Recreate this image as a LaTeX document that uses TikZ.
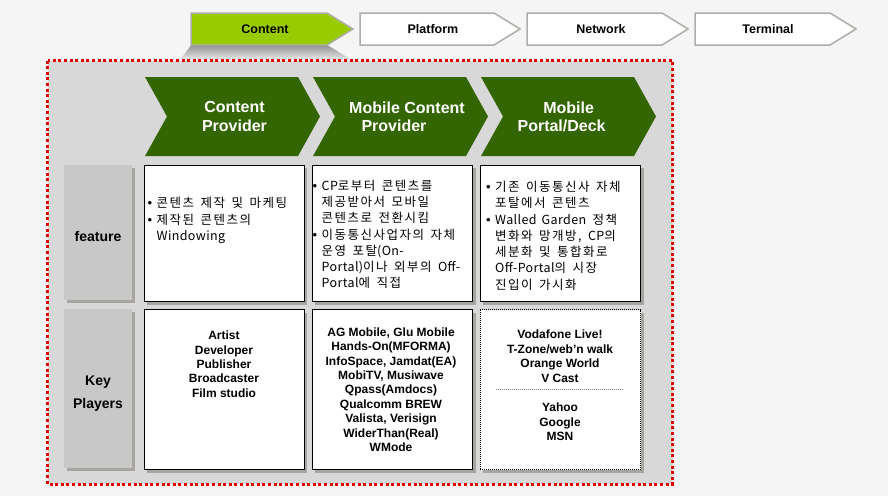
\documentclass[tikz,border=0pt]{standalone}
\usepackage{fontspec}
\setmainfont{Liberation Sans}
\newfontfamily\krfont{Noto Sans CJK KR}[LetterSpace=12,WordSpace=1.5]
\newfontfamily\krlat{Noto Sans CJK KR}[LetterSpace=3,WordSpace=1.6]
\newfontfamily\bulfont{Liberation Sans}
\definecolor{bgc}{HTML}{F5F5F5}
\definecolor{limec}{HTML}{99CC00}
\definecolor{tabline}{HTML}{B0ACA8}
\definecolor{chev}{HTML}{336600}
\definecolor{panel}{HTML}{D8D8D8}
\definecolor{dotred}{HTML}{E00000}
\definecolor{lblgray}{HTML}{C8C8C8}
\definecolor{shad}{HTML}{A8A4A0}
\definecolor{shtop}{HTML}{969696}
\definecolor{shbot}{HTML}{EBEBEB}
\newcommand{\kbul}{\makebox[9pt][l]{\bulfont\fontsize{13}{13}\selectfont •}}
\newcommand{\kind}{\hspace*{9pt}}
\newcommand{\lat}[1]{{\krlat #1}}
\begin{document}
\begin{tikzpicture}[x=1pt,y=-1pt,
  tabbox/.style={draw=tabline, line width=1.5pt, fill=white, line join=miter},
  tabtext/.style={font=\bfseries\fontsize{12.5}{14}\selectfont, inner sep=0},
  chevshape/.style={fill=chev},
  chevtext/.style={text=white, font=\bfseries\fontsize{16}{18.7}\selectfont, align=center, inner sep=0, anchor=north},
  lblbox/.style={fill=lblgray},
  shadowbox/.style={fill=shad},
  lbltext/.style={font=\bfseries\fontsize{14}{22.7}\selectfont, align=center, inner sep=0},
  cellbox/.style={draw=black, line width=1pt, fill=white},
  featt/.style={font=\krfont\fontsize{12.5}{16.25}\selectfont, align=left, inner sep=0, anchor=north west},
  kpt/.style={font=\bfseries\fontsize{12}{14.4}\selectfont, align=center, inner sep=0, anchor=north},
  sepline/.style={draw=gray, line width=0.8pt, dash pattern=on 1pt off 1pt}
]
\useasboundingbox (0,0) rectangle (888,496);
\fill[bgc] (0,0) rectangle (888,496);

% top tabs
\filldraw[tabbox, fill=limec] (191,13) -- (327,13) -- (353,29) -- (327,45) -- (191,45) -- cycle;
\filldraw[tabbox] (360,13) -- (494,13) -- (520,29) -- (494,45) -- (360,45) -- cycle;
\filldraw[tabbox] (527,13) -- (662,13) -- (688,29) -- (662,45) -- (527,45) -- cycle;
\filldraw[tabbox] (695,13) -- (830,13) -- (856,29) -- (830,45) -- (695,45) -- cycle;
\node[tabtext] (t1) at (265,29) {Content};
\node[tabtext] (t2) at (433,29) {Platform};
\node[tabtext] (t3) at (601,29) {Network};
\node[tabtext] (t4) at (768,29) {Terminal};

% shadow under active tab
\shade[top color=shtop, bottom color=shbot] (191,45.5) -- (328,45.5) -- (352,60) -- (180,60) -- cycle;

% outer panel
\fill[panel] (47.5,60.5) rectangle (672.5,484);
\draw[dotred, line width=3pt, dash pattern=on 3pt off 2.6pt] (47.5,60.5) rectangle (672.5,484);

% chevrons
\fill[chevshape] (145,77) -- (298,77) -- (320,116.5) -- (298,156) -- (145,156) -- (167,116.5) -- cycle;
\fill[chevshape] (313,77) -- (466,77) -- (488,116.5) -- (466,156) -- (313,156) -- (335,116.5) -- cycle;
\fill[chevshape] (481,77) -- (634,77) -- (656,116.5) -- (634,156) -- (481,156) -- (503,116.5) -- cycle;
\node[chevtext] (h1) at (234.5,101.5) {Content\\Provider};
\node[chevtext] (h2) at (407,101.5) {Mobile Content\\Provider\hspace*{26pt}};
\node[chevtext] (h3) at (568.6,101.5) {Mobile\\Portal/Deck\hspace*{14pt}};

% row labels
\fill[shadowbox] (67,168) rectangle (135,303);
\fill[lblbox] (64,165) rectangle (132,300);
\fill[shadowbox] (67,312) rectangle (135,471);
\fill[lblbox] (64,309) rectangle (132,468);
\node[lbltext] (l1) at (98,236) {feature};
\node[lbltext] (l2) at (98,393.5) {Key\\Players};

% cells: shadows
\fill[shadowbox] (147,168) rectangle (307,304.5);
\fill[shadowbox] (315,168) rectangle (475.5,304.5);
\fill[shadowbox] (483,168) rectangle (643.5,304.5);
\fill[shadowbox] (147,312.5) rectangle (307,472.5);
\fill[shadowbox] (315,312.5) rectangle (475.5,472.5);
\fill[shadowbox] (483,312.5) rectangle (643.5,472.5);
% cells
\filldraw[cellbox] (144,165) rectangle (304,301.5);
\filldraw[cellbox] (312,165) rectangle (472.5,301.5);
\filldraw[cellbox] (480,165) rectangle (640.5,301.5);
\filldraw[cellbox] (144,309.5) rectangle (304,469.5);
\filldraw[cellbox] (312,309.5) rectangle (472.5,469.5);
\filldraw[cellbox, dash pattern=on 1pt off 1pt] (480,309.5) rectangle (640.5,469.5);

% feature texts
\node[featt] (f1) at (147.5,197.3) {\kbul 콘텐츠 제작 및 마케팅\\\kbul 제작된 콘텐츠의\\\kind \lat{Windowing}};
\node[featt] (f2) at (312.5,179.8) {\kbul \lat{CP}로부터 콘텐츠를\\\kind 제공받아서 모바일\\\kind 콘텐츠로 전환시킴\\\kbul 이동통신사업자의 자체\\\kind 운영 포탈\lat{(On-}\\\kind \lat{Portal)}이나 외부의 \lat{Off-}\\\kind \lat{Portal}에 직접};
\node[featt] (f3) at (486,181) {\kbul 기존 이동통신사 자체\\\kind 포탈에서 콘텐츠\\\kbul \lat{Walled Garden} 정책\\\kind 변화와 망개방, \lat{CP}의\\\kind 세분화 및 통합화로\\\kind \lat{Off-Portal}의 시장\\\kind 진입이 가시화};

% key players
\node[kpt] (k1) at (224,330.7) {Artist\\Developer\\Publisher\\Broadcaster\\Film studio};
\node[kpt] (k2) at (391,327.4) {AG Mobile, Glu Mobile\\Hands-On(MFORMA)\\InfoSpace, Jamdat(EA)\\MobiTV, Musiwave\\Qpass(Amdocs)\\Qualcomm BREW\\Valista, Verisign\\WiderThan(Real)\\WMode};
\node[kpt] (k3a) at (560,330) {Vodafone Live!\\T-Zone/web'n walk\\Orange World\\V Cast};
\node[kpt] (k3b) at (560,403) {Yahoo\\Google\\MSN};
\coordinate (sepL) at (496,389.5);
\coordinate (sepR) at (623,389.5);
\draw[sepline] (sepL) -- (sepR);
\end{tikzpicture}
\end{document}
